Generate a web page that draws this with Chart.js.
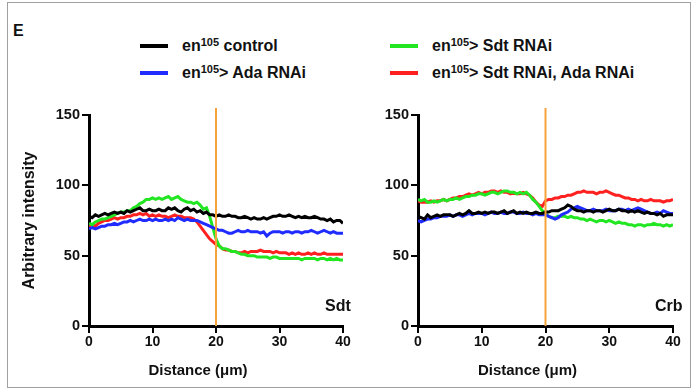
<!DOCTYPE html>
<html>
<head>
<meta charset="utf-8">
<script src="https://cdn.jsdelivr.net/npm/chart.js@4"></script>
<style>
  body { margin: 0; width: 693px; height: 392px; background: #fff; position: relative; overflow: hidden;
         font-family: "Liberation Sans", Arial, sans-serif; font-weight: bold; color: #111; }
  #frame { position: absolute; left: 7px; top: 2px; width: 682px; height: 384px; border: 1px solid #a0a0a0; }
  .panel { position: absolute; top: 100px; height: 285px; }
  #left { left: 0; width: 355px; }
  #right { left: 355px; width: 338px; }
  #tag { position: absolute; left: 13px; top: 22px; font-size: 16px; }
  .leg { position: absolute; font-size: 16px; display: flex; align-items: center; white-space: nowrap; height: 20px; }
  .sw { width: 28px; height: 4px; margin-right: 14px; }
  sup { font-size: 11px; line-height: 0; position: relative; top: -4px; vertical-align: baseline; }
</style>
</head>
<body>
<div id="frame"></div>
<div id="tag">E</div>
<div class="leg" style="left:140px;top:36px"><span class="sw" style="background:#000"></span>en<sup>105</sup>&nbsp;control</div>
<div class="leg" style="left:140px;top:63px"><span class="sw" style="background:#1f2bff"></span>en<sup>105</sup>&gt; Ada RNAi</div>
<div class="leg" style="left:390px;top:36px"><span class="sw" style="background:#22e622"></span>en<sup>105</sup>&gt; Sdt RNAi</div>
<div class="leg" style="left:390px;top:63px"><span class="sw" style="background:#ff2020"></span>en<sup>105</sup>&gt; Sdt RNAi, Ada RNAi</div>
<div class="panel" id="left"><canvas id="c1"></canvas></div>
<div class="panel" id="right"><canvas id="c2"></canvas></div>
<script>
const distance = [
  0, 0.5, 1, 1.5, 2, 2.5, 3, 3.5, 4, 4.5, 5, 5.5, 6, 6.5, 7, 7.5, 8, 8.5, 9, 9.5,
  10, 10.5, 11, 11.5, 12, 12.5, 13, 13.5, 14, 14.5, 15, 15.5, 16, 16.5, 17, 17.5, 18, 18.5, 19, 19.5,
  20, 20.5, 21, 21.5, 22, 22.5, 23, 23.5, 24, 24.5, 25, 25.5, 26, 26.5, 27, 27.5, 28, 28.5, 29, 29.5,
  30, 30.5, 31, 31.5, 32, 32.5, 33, 33.5, 34, 34.5, 35, 35.5, 36, 36.5, 37, 37.5, 38, 38.5, 39, 39.5, 40
];
const xTicks = [0, 10, 20, 30, 40];
const yTicks = [0, 50, 100, 150];
const boundary = 20;

const seriesNames = ["en105 control", "en105> Ada RNAi", "en105> Sdt RNAi", "en105> Sdt RNAi, Ada RNAi"];
const seriesColors = ["#000000", "#1f2bff", "#22e622", "#ff2020"];

// Sdt panel
const sdtControl = [
  78, 77, 79, 78, 79, 80, 79, 80, 81, 80, 81, 80, 82, 81, 82, 83, 84, 82, 82, 83,
  82, 82, 83, 82, 82, 84, 83, 84, 82, 81, 83, 84, 82, 83, 81, 82, 80, 81, 79, 79,
  78, 79, 78, 78, 79, 78, 78, 77, 77, 78, 77, 76, 77, 76, 76, 77, 76, 77, 78, 78,
  79, 78, 78, 79, 78, 77, 78, 77, 78, 77, 77, 78, 77, 76, 76, 75, 76, 74, 75, 75, 73
];
const sdtAda = [
  69, 70, 69, 70, 71, 71, 72, 72, 73, 72, 73, 74, 74, 75, 74, 75, 76, 75, 75, 76,
  75, 76, 75, 75, 76, 75, 76, 75, 77, 76, 75, 76, 75, 75, 75, 74, 73, 72, 71, 70,
  69, 68, 68, 67, 66, 66, 67, 68, 67, 67, 68, 67, 67, 67, 66, 67, 64, 66, 67, 67,
  67, 66, 67, 67, 66, 67, 67, 66, 67, 67, 68, 67, 66, 67, 68, 67, 66, 67, 66, 66, 66
];
const sdtSdt = [
  73, 72, 74, 75, 76, 76, 77, 78, 79, 80, 81, 81, 82, 82, 84, 85, 87, 88, 90, 90,
  91, 90, 91, 90, 91, 92, 90, 91, 92, 90, 89, 88, 88, 87, 88, 86, 83, 84, 78, 70,
  62, 57, 55, 55, 54, 53, 53, 52, 51, 51, 50, 50, 50, 49, 49, 49, 49, 48, 49, 49,
  48, 48, 48, 48, 48, 48, 48, 47, 48, 48, 48, 48, 47, 48, 48, 47, 48, 47, 48, 47, 47
];
const sdtBoth = [
  71, 72, 71, 73, 74, 75, 75, 76, 77, 76, 77, 77, 78, 78, 79, 79, 80, 79, 80, 78,
  79, 78, 79, 78, 78, 77, 78, 79, 78, 78, 77, 77, 77, 76, 74, 71, 68, 65, 62, 60,
  58, 57, 55, 54, 54, 53, 53, 52, 52, 53, 52, 53, 53, 53, 54, 53, 53, 53, 52, 53,
  52, 52, 52, 51, 52, 51, 52, 51, 51, 52, 51, 52, 51, 51, 52, 51, 51, 51, 51, 51, 51
];

// Crb panel
const crbControl = [
  78, 77, 76, 79, 77, 78, 79, 78, 79, 79, 79, 78, 79, 80, 79, 80, 82, 80, 80, 81,
  80, 81, 80, 81, 81, 80, 81, 82, 80, 81, 82, 80, 81, 80, 81, 80, 80, 81, 80, 80,
  81, 81, 82, 82, 82, 83, 84, 86, 85, 83, 82, 82, 81, 82, 82, 81, 82, 82, 81, 82,
  83, 82, 82, 83, 82, 82, 81, 82, 81, 82, 81, 80, 81, 80, 80, 79, 80, 78, 79, 79, 79
];
const crbAda = [
  75, 74, 75, 76, 76, 77, 77, 78, 78, 78, 79, 78, 79, 79, 78, 79, 80, 79, 80, 80,
  80, 79, 80, 81, 80, 80, 81, 80, 80, 81, 81, 80, 80, 81, 80, 80, 79, 80, 79, 79,
  79, 78, 77, 76, 77, 79, 80, 81, 83, 84, 85, 84, 83, 82, 82, 83, 82, 82, 82, 83,
  82, 82, 82, 83, 83, 82, 83, 82, 83, 84, 83, 82, 81, 80, 80, 81, 80, 82, 81, 80, 80
];
const crbSdt = [
  90, 89, 90, 88, 88, 89, 88, 89, 90, 89, 90, 90, 91, 90, 91, 92, 92, 93, 93, 94,
  94, 93, 94, 95, 95, 94, 95, 96, 96, 95, 95, 94, 95, 94, 95, 93, 90, 88, 85, 82,
  80, 78, 77, 77, 78, 78, 78, 77, 78, 77, 77, 76, 76, 75, 76, 75, 74, 75, 75, 74,
  75, 74, 73, 74, 73, 73, 72, 72, 71, 72, 72, 71, 72, 72, 73, 72, 72, 71, 72, 71, 72
];
const crbBoth = [
  89, 88, 88, 88, 89, 88, 89, 89, 90, 89, 90, 91, 91, 92, 92, 93, 94, 93, 94, 95,
  94, 95, 95, 96, 96, 95, 96, 95, 95, 94, 95, 94, 94, 95, 94, 93, 91, 88, 86, 85,
  89, 90, 90, 91, 91, 92, 92, 93, 93, 94, 95, 95, 96, 95, 95, 95, 94, 95, 95, 96,
  95, 94, 93, 93, 92, 91, 91, 90, 90, 89, 90, 89, 89, 90, 89, 89, 89, 88, 89, 89, 90
];

const fontFamily = "'Liberation Sans', Arial, sans-serif";
const tickFont = { family: fontFamily, size: 14, weight: "bold" };

// panel name (Sdt / Crb) and the x axis title, which sits a bit left of centre
const panelText = {
  id: "panelText",
  afterDatasetsDraw(chart, args, opts) {
    const { ctx, chartArea, scales } = chart;
    ctx.save();
    ctx.fillStyle = "#111";
    ctx.textBaseline = "middle";
    ctx.font = "bold 16px " + fontFamily;
    ctx.textAlign = "left";
    ctx.fillText(opts.text, chartArea.right - 18, scales.y.getPixelForValue(13.5));
    ctx.font = "bold 15px " + fontFamily;
    ctx.textAlign = "center";
    ctx.fillText("Distance (\u03bcm)", (chartArea.left + chartArea.right) / 2 - 18, chartArea.bottom + 45);
    ctx.restore();
  }
};

function makePanel(id, values, label, yTitle, yWidth, padRight) {
  const datasets = [{
    data: [{ x: boundary, y: 0 }, { x: boundary, y: 155 }],
    borderColor: "#f6a23a", borderWidth: 2, pointRadius: 0, clip: false, order: -1
  }];
  values.forEach((vals, i) => {
    datasets.push({
      label: seriesNames[i],
      data: vals.map((v, j) => ({ x: distance[j], y: v })),
      borderColor: seriesColors[i],
      borderWidth: 3,
      pointRadius: 0,
      tension: 0
    });
  });
  new Chart(document.getElementById(id), {
    type: "line",
    data: { datasets },
    plugins: [panelText],
    options: {
      responsive: true,
      maintainAspectRatio: false,
      animation: false,
      layout: { padding: { top: 15, right: padRight, left: 0, bottom: 0 } },
      plugins: { legend: { display: false }, tooltip: { enabled: false }, panelText: { text: label } },
      scales: {
        x: {
          type: "linear", min: 0, max: 40,
          afterBuildTicks: s => { s.ticks = xTicks.map(v => ({ value: v })); },
          afterFit: s => { s.height = 59; },
          grid: { drawOnChartArea: false, drawTicks: true, tickLength: 7, color: "#000", lineWidth: 2 },
          border: { color: "#000", width: 3 },
          ticks: { color: "#111", font: tickFont, padding: 1, maxRotation: 0 }
        },
        y: {
          min: 0, max: 150,
          afterBuildTicks: s => { s.ticks = yTicks.map(v => ({ value: v })); },
          afterFit: s => { s.width = yWidth; },
          grid: { drawOnChartArea: false, drawTicks: true, tickLength: 7, color: "#000", lineWidth: 2 },
          border: { color: "#000", width: 3 },
          ticks: { color: "#111", font: { ...tickFont, size: 14.5 }, padding: 2 },
          title: { display: yTitle, text: "Arbitrary intensity", color: "#111", font: { ...tickFont, size: 16 }, padding: { top: 20, bottom: 0 } }
        }
      }
    }
  });
}

makePanel("c1", [sdtControl, sdtAda, sdtSdt, sdtBoth], "Sdt", true, 89, 12);
makePanel("c2", [crbControl, crbAda, crbSdt, crbBoth], "Crb", false, 63, 20);
</script>
</body>
</html>
